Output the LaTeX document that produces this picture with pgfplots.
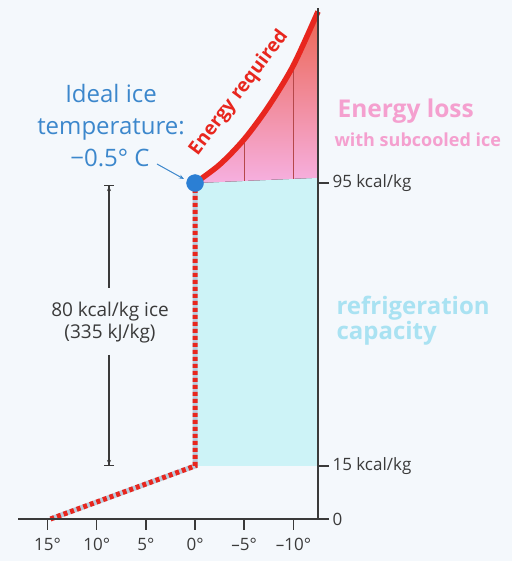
\documentclass[border=0pt]{standalone}
\usepackage{fontspec}
\setmainfont{Open Sans}
\usepackage{pgfplots}
\pgfplotsset{compat=1.18}
\usepgfplotslibrary{fillbetween}
\usetikzlibrary{arrows.meta}

\definecolor{bgcol}{HTML}{F4F8FC}
\definecolor{axisgray}{HTML}{3A3A3A}
\definecolor{redline}{HTML}{E8261E}
\definecolor{dotgap}{HTML}{B9CCDD}
\definecolor{dotblue}{HTML}{2B7FD4}
\definecolor{textblue}{HTML}{3C87CC}
\definecolor{cyanfill}{HTML}{CDF3F7}
\definecolor{cyantext}{HTML}{A9E2F2}
\definecolor{pinklow}{HTML}{F6B0E0}
\definecolor{redhigh}{HTML}{EC6552}
\definecolor{pinktext}{HTML}{F4A0CF}
\definecolor{divline}{HTML}{B5484A}

\tikzset{fill between/on layer=main}

\begin{document}
\begin{tikzpicture}
\fill[bgcol] (-18pt,-42pt) rectangle (494pt,519pt);

\begin{axis}[
    scale only axis,
    width=300pt, height=511pt,
    x dir=reverse,
    xmin=-12.5, xmax=18,
    ymin=0, ymax=144.5,
    axis x line*=bottom,
    axis y line*=right,
    x axis line style={draw=axisgray, line width=2.6pt},
    y axis line style={draw=axisgray, line width=1.8pt},
    xtick={15,10,5,0,-5,-10},
    xticklabels={15°,10°,5°,0°,–5°,–10°},
    ytick={0,15,95},
    yticklabels={0,15 kcal/kg,95 kcal/kg},
    tick align=outside,
    major tick length=11pt,
    tick style={draw=axisgray, line width=1.5pt},
    tick label style={font=\fontsize{17}{20}\selectfont, text=axisgray},
    xticklabel style={yshift=-5pt},
    clip=false,
    axis on top,
]
% refrigeration capacity band
\addplot[fill=cyanfill, draw=none] coordinates {(0,15) (-12.5,15) (-12.5,96.5) (0,95) (0,15)};

% energy required curve and the base of the loss region
\addplot[name path=curve, draw=none, smooth] coordinates {
    (0,95) (-2.5,100.2) (-5,107.4) (-7.5,116.8) (-10,128.3) (-12.5,143.5)};
\addplot[name path=base, draw=none] coordinates {(0,95) (-12.5,96.5)};
\addplot[top color=redhigh, bottom color=pinklow, draw=none] fill between[of=curve and base];

% divider lines in the loss region
\addplot[draw=divline, line width=0.9pt] coordinates {(-5,95.6) (-5,107.4)};
\addplot[draw=divline, line width=0.9pt] coordinates {(-10,96.2) (-10,128.3)};

\addplot[draw=redline, line width=5.5pt, smooth] coordinates {
    (0,95) (-2.5,100.2) (-5,107.4) (-7.5,116.8) (-10,128.3) (-12.5,143.5)};

% cooling path of the ice (dotted)
\addplot[draw=dotgap, line width=5pt] coordinates {(14.7,0) (0,15) (0,95)};
\addplot[draw=redline, line width=5pt, dash pattern=on 4pt off 3pt] coordinates {(14.7,0) (0,15) (0,95)};

% ideal ice point
\addplot[only marks, mark=*, mark size=8.5pt, color=dotblue] coordinates {(0,95)};
\end{axis}

% annotations (1pt = 1px of the reference, origin at the axis corner)
\node[anchor=base, text=textblue, font=\fontsize{24}{28}\selectfont] at (93pt,416pt) {Ideal ice};
\node[anchor=base, text=textblue, font=\fontsize{24}{28}\selectfont] at (93pt,384pt) {temperature:};
\node[anchor=base, text=textblue, font=\fontsize{24}{28}\selectfont] at (92pt,352pt) {−0.5° C};
\draw[textblue, line width=1pt, -{Stealth[length=5pt,width=4pt]}] (139pt,355pt) -- (166pt,340pt);

\node[rotate=53, text=redline, font=\bfseries\fontsize{19}{22}\selectfont] at (221pt,426pt) {Energy required};

\node[anchor=base west, text=pinktext, font=\bfseries\fontsize{24.5}{28}\selectfont] at (316pt,401pt) {Energy loss};
\node[anchor=base west, text=pinktext, font=\bfseries\fontsize{18}{21}\selectfont] at (313pt,372pt) {with subcooled ice};

\node[anchor=base west, text=cyantext, font=\bfseries\fontsize{24}{28}\selectfont] at (315pt,204pt) {refrigeration};
\node[anchor=base west, text=cyantext, font=\bfseries\fontsize{24}{28}\selectfont] at (315pt,179pt) {capacity};

\draw[axisgray, line width=1.1pt, {Bar[width=10pt,line width=1.1pt]Stealth[length=5pt,width=4pt]}-] (91pt,334pt) -- (91pt,231pt);
\draw[axisgray, line width=1.1pt, -{Stealth[length=5pt,width=4pt]Bar[width=10pt,line width=1.1pt]}] (91pt,164pt) -- (91pt,53pt);
\node[anchor=base, text=axisgray, font=\fontsize{19}{22}\selectfont] at (92pt,202pt) {80 kcal/kg ice};
\node[anchor=base, text=axisgray, font=\fontsize{19}{22}\selectfont] at (92pt,180pt) {(335 kJ/kg)};

\pgfresetboundingbox
\path[use as bounding box] (-18pt,-42pt) rectangle (494pt,519pt);
\end{tikzpicture}
\end{document}
